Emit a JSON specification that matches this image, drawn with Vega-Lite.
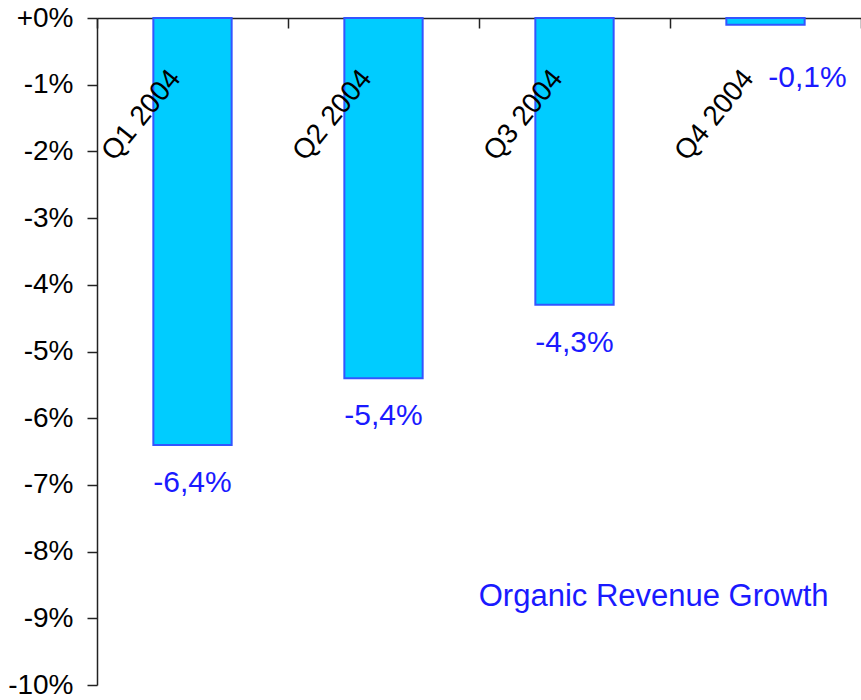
{
  "$schema": "https://vega.github.io/schema/vega-lite/v6.json",
  "width": 764,
  "height": 667,
  "autosize": {"type": "none"},
  "padding": {"left": 97, "top": 18, "right": 0, "bottom": 15},
  "background": "white",
  "config": {
    "view": {"stroke": null},
    "font": "Liberation Sans",
    "locale": {"number": {"decimal": ",", "thousands": ".", "grouping": [3], "currency": ["", " €"], "minus": "-"}}
  },
  "data": {
    "values": [
      {"quarter": "Q1 2004", "growth": -0.064},
      {"quarter": "Q2 2004", "growth": -0.054},
      {"quarter": "Q3 2004", "growth": -0.043},
      {"quarter": "Q4 2004", "growth": -0.001}
    ]
  },
  "encoding": {
    "x": {
      "field": "quarter",
      "type": "nominal",
      "sort": null,
      "scale": {"paddingInner": 0, "paddingOuter": 0},
      "axis": {
        "orient": "top",
        "title": null,
        "labels": false,
        "tickBand": "extent",
        "tickSize": -10,
        "tickColor": "#222",
        "tickWidth": 1.5,
        "domainColor": "#222",
        "domainWidth": 1.5,
        "grid": false
      }
    },
    "y": {
      "field": "growth",
      "type": "quantitative",
      "scale": {"domain": [-0.1, 0], "nice": false},
      "axis": {
        "title": null,
        "values": [0, -0.01, -0.02, -0.03, -0.04, -0.05, -0.06, -0.07, -0.08, -0.09, -0.1],
        "format": "+.0%",
        "grid": false,
        "labelFontSize": 28,
        "labelColor": "#000",
        "labelPadding": 14,
        "tickSize": 10,
        "tickColor": "#222",
        "tickWidth": 1.5,
        "domainColor": "#222",
        "domainWidth": 1.5
      }
    }
  },
  "layer": [
    {
      "mark": {"type": "bar", "width": {"band": 0.41}, "fill": "#00CCFF", "stroke": "#3355FF", "strokeWidth": 2}
    },
    {
      "mark": {"type": "text", "angle": -51, "align": "right", "baseline": "alphabetic", "dx": -54, "dy": 30, "fontSize": 28, "color": "#000"},
      "encoding": {
        "y": {"datum": 0},
        "text": {"field": "quarter"}
      }
    },
    {
      "transform": [{"filter": "datum.quarter != 'Q4 2004'"}],
      "mark": {"type": "text", "align": "center", "baseline": "top", "dy": 23, "fontSize": 30, "color": "#1a1aff"},
      "encoding": {
        "text": {"field": "growth", "type": "quantitative", "format": ".1%"}
      }
    },
    {
      "transform": [{"filter": "datum.quarter == 'Q4 2004'"}],
      "mark": {"type": "text", "align": "center", "baseline": "top", "dx": 42, "dy": 38, "fontSize": 30, "color": "#1a1aff"},
      "encoding": {
        "text": {"field": "growth", "type": "quantitative", "format": ".1%"}
      }
    },
    {
      "data": {"values": [{"note": "Organic Revenue Growth", "quarter": "Q4 2004", "level": -0.0868}]},
      "mark": {"type": "text", "align": "right", "baseline": "middle", "dx": 63, "fontSize": 31, "color": "#1a1aff"},
      "encoding": {
        "x": {"field": "quarter", "type": "nominal"},
        "y": {"field": "level", "type": "quantitative"},
        "text": {"field": "note"}
      }
    }
  ]
}
